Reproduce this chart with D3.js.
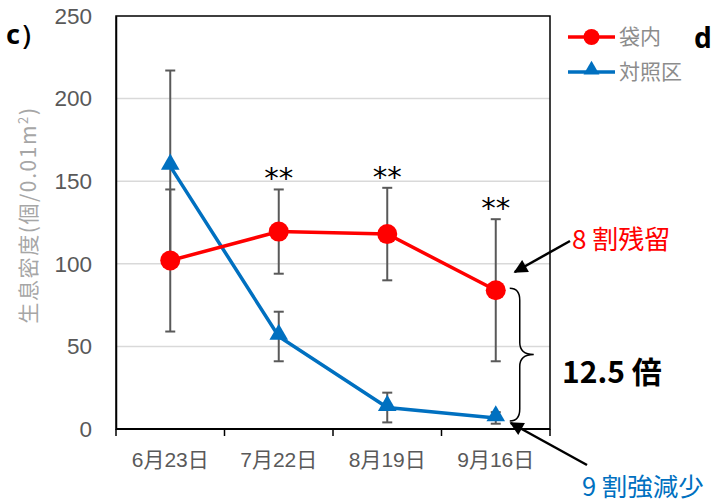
<!DOCTYPE html>
<html>
<head>
<meta charset="utf-8">
<script src="https://cdn.jsdelivr.net/npm/d3@7/dist/d3.min.js"></script>
<style>
  html, body { margin: 0; padding: 0; background: #fff; }
  svg { display: block; }
</style>
</head>
<body>
<svg id="chart" width="714" height="502"></svg>
<script>
// Survey dates
const dates = ["6月23日", "7月22日", "8月19日", "9月16日"];
// Density inside the bag (個/0.01m²) and standard deviation
const bagMean = [102, 119.5, 118, 84];
const bagSD = [43, 25.5, 28, 43];
// Density in the control plot
const ctrlMean = [159, 56, 13, 6.7];
const ctrlSD = [58, 15, 9, 3.5];
// Significance marks per date
const signif = ["", "**", "**", "**"];
const yTicks = [0, 50, 100, 150, 200, 250];

const seriesNames = ["袋内", "対照区"];
const RED = "#FF0000", BLUE = "#0070C0", GRAY = "#595959";
const JP = "'Noto Sans CJK JP', 'Noto Sans', sans-serif";
const NUM = "'Liberation Sans', 'Noto Sans CJK JP', sans-serif";

const svg = d3.select("#chart");
const margin = { left: 116, right: 164, top: 16, bottom: 73 };
const W = 714, H = 502;
const x = d3.scaleBand().domain(dates).range([margin.left, W - margin.right]).padding(0);
const y = d3.scaleLinear().domain([0, 250]).range([H - margin.bottom, margin.top]);
const cx = d => x(d) + x.bandwidth() / 2;

// Gridlines
svg.append("g").selectAll("line").data(yTicks.filter(t => t > 0 && t < 250)).join("line")
  .attr("x1", margin.left).attr("x2", W - margin.right)
  .attr("y1", d => y(d)).attr("y2", d => y(d))
  .attr("stroke", "#d9d9d9").attr("stroke-width", 1.5);

// Frame
svg.append("rect")
  .attr("x", margin.left).attr("y", margin.top)
  .attr("width", W - margin.left - margin.right).attr("height", H - margin.top - margin.bottom)
  .attr("fill", "none").attr("stroke", "#000").attr("stroke-width", 1.5);

// Y axis
const yAxis = svg.append("g").attr("transform", `translate(${margin.left},0)`)
  .call(d3.axisLeft(y).tickValues(yTicks).tickSize(0).tickPadding(24));
yAxis.select(".domain").attr("stroke", "#000").attr("stroke-width", 1.5);
yAxis.selectAll("text").attr("font-family", NUM).attr("font-size", 22.5).attr("fill", GRAY);

// X axis with ticks at band boundaries
const xAxisG = svg.append("g").attr("transform", `translate(0,${y(0)})`);
xAxisG.append("line").attr("x1", margin.left).attr("x2", W - margin.right)
  .attr("stroke", "#000").attr("stroke-width", 2);
const bounds = dates.map(d => x(d)).concat([x(dates[dates.length - 1]) + x.bandwidth()]);
xAxisG.selectAll("line.tk").data(bounds).join("line").attr("class", "tk")
  .attr("x1", d => d).attr("x2", d => d).attr("y1", 0).attr("y2", 7)
  .attr("stroke", "#000").attr("stroke-width", 1.5);
xAxisG.selectAll("text").data(dates).join("text")
  .attr("x", d => cx(d)).attr("y", 38).attr("text-anchor", "middle")
  .attr("font-family", NUM).attr("font-size", 21).attr("fill", GRAY)
  .text(d => d);

// Y axis title
svg.append("text")
  .attr("transform", `translate(36,${215}) rotate(-90)`)
  .attr("text-anchor", "middle").attr("font-family", JP).attr("font-size", 21)
  .attr("letter-spacing", 1.6)
  .attr("fill", "#a6a6a6")
  .html("生息密度(個/0.01m<tspan dy='-8' font-size='13'>2</tspan><tspan dy='8'>)</tspan>");

// Error bars
function errorBars(means, sds) {
  const g = svg.append("g").attr("stroke", GRAY).attr("stroke-width", 2).attr("fill", "none");
  dates.forEach((d, i) => {
    const px = cx(d), yTop = y(means[i] + sds[i]), yBot = y(Math.max(0, means[i] - sds[i]));
    g.append("line").attr("x1", px).attr("x2", px).attr("y1", yTop).attr("y2", yBot);
    g.append("line").attr("x1", px - 5).attr("x2", px + 5).attr("y1", yTop).attr("y2", yTop);
    g.append("line").attr("x1", px - 5).attr("x2", px + 5).attr("y1", yBot).attr("y2", yBot);
  });
}
errorBars(ctrlMean, ctrlSD);
errorBars(bagMean, bagSD);

const line = d3.line().x((d, i) => cx(dates[i])).y(d => y(d));

// Control series
svg.append("path").datum(ctrlMean).attr("d", line)
  .attr("fill", "none").attr("stroke", BLUE).attr("stroke-width", 3.5);
const tri = d3.symbol().type(d3.symbolTriangle).size(150);
svg.append("g").selectAll("path").data(ctrlMean).join("path")
  .attr("d", tri)
  .attr("transform", (d, i) => `translate(${cx(dates[i])},${y(d) - 2})`)
  .attr("fill", BLUE);

// Bag series
svg.append("path").datum(bagMean).attr("d", line)
  .attr("fill", "none").attr("stroke", RED).attr("stroke-width", 3.5);
svg.append("g").selectAll("circle").data(bagMean).join("circle")
  .attr("cx", (d, i) => cx(dates[i])).attr("cy", d => y(d)).attr("r", 10)
  .attr("fill", RED);

// Significance marks
svg.append("g").selectAll("text").data(signif).join("text")
  .attr("x", (d, i) => cx(dates[i]))
  .attr("y", (d, i) => y(bagMean[i] + bagSD[i]) - 1)
  .attr("text-anchor", "middle").attr("font-family", "'DejaVu Sans', sans-serif").attr("font-size", 29)
  .attr("fill", "#000").text(d => d);

// Legend
const legend = svg.append("g");
const legendColors = [RED, BLUE];
seriesNames.forEach((name, i) => {
  const ly = 37 + i * 35;
  legend.append("line").attr("x1", 568).attr("x2", 615).attr("y1", ly).attr("y2", ly)
    .attr("stroke", legendColors[i]).attr("stroke-width", 3.5);
  if (i === 0) {
    legend.append("circle").attr("cx", 591.5).attr("cy", ly).attr("r", 8).attr("fill", RED);
  } else {
    legend.append("path").attr("d", d3.symbol().type(d3.symbolTriangle).size(110))
      .attr("transform", `translate(591.5,${ly - 2})`).attr("fill", BLUE);
  }
  legend.append("text").attr("x", 619).attr("y", ly + 7).attr("font-family", JP)
    .attr("font-size", 21).attr("fill", "#8c8c8c").text(name);
});

// Panel letters
svg.append("text").attr("x", 6).attr("y", 44).attr("font-family", "'Noto Sans', sans-serif")
  .attr("font-size", 27).attr("font-weight", "bold").attr("fill", "#000").text("c）");
svg.append("text").attr("x", 694).attr("y", 48).attr("font-family", "'Noto Sans', sans-serif")
  .attr("font-size", 28).attr("font-weight", "bold").attr("fill", "#000").text("d");

// Arrow marker
const defs = svg.append("defs");
defs.append("marker").attr("id", "arrow").attr("viewBox", "0 0 10 10")
  .attr("refX", 9).attr("refY", 5).attr("markerWidth", 6).attr("markerHeight", 5.5)
  .attr("markerUnits", "strokeWidth").attr("orient", "auto")
  .append("path").attr("d", "M0,0 L10,5 L0,10 z").attr("fill", "#000");

const lastX = cx(dates[3]);
const redLast = y(bagMean[3]), blueLast = y(ctrlMean[3]);

// Annotation: remaining inside the bag
svg.append("line").attr("x1", 570).attr("y1", 241).attr("x2", lastX + 19).attr("y2", 272)
  .attr("stroke", "#000").attr("stroke-width", 2.5).attr("marker-end", "url(#arrow)");
svg.append("text").attr("x", 572).attr("y", 249).attr("font-family", JP)
  .attr("font-size", 26).attr("fill", RED).text("8 割残留");

// Brace between final values
const bx = lastX + 24, bTop = redLast - 2, bBot = blueLast + 3, bMid = (bTop + bBot) / 2;
svg.append("path")
  .attr("d", `M${lastX + 14},${bTop} Q${bx},${bTop} ${bx},${bTop + 12} L${bx},${bMid - 12} Q${bx},${bMid} ${bx + 14},${bMid} Q${bx},${bMid} ${bx},${bMid + 12} L${bx},${bBot - 12} Q${bx},${bBot} ${lastX + 14},${bBot}`)
  .attr("fill", "none").attr("stroke", "#000").attr("stroke-width", 1.5);
svg.append("text").attr("x", 562).attr("y", 383).attr("font-family", JP)
  .attr("font-size", 30).attr("font-weight", "bold").attr("fill", "#000").text("12.5 倍");

// Annotation: decrease in the control plot
svg.append("line").attr("x1", 587).attr("y1", 465).attr("x2", lastX + 15).attr("y2", 423)
  .attr("stroke", "#000").attr("stroke-width", 2.5).attr("marker-end", "url(#arrow)");
svg.append("text").attr("x", 582).attr("y", 496).attr("font-family", JP)
  .attr("font-size", 25.5).attr("fill", BLUE).text("9 割強減少");
</script>
</body>
</html>
